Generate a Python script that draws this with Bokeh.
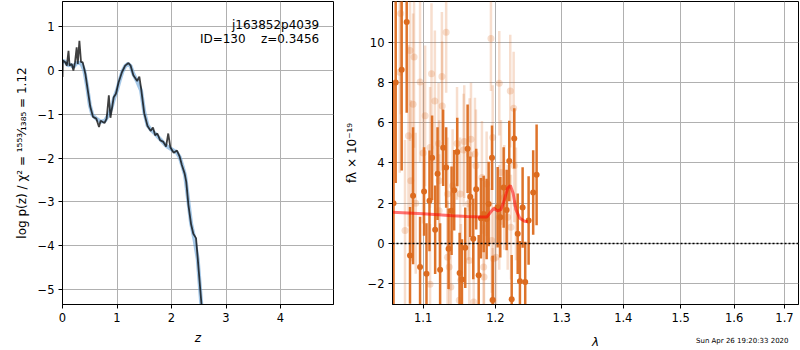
import numpy as np
from bokeh.plotting import figure
from bokeh.models import Range1d, CustomJSTickFormatter, Label, Span, ColumnDataSource
from bokeh.layouts import row
from bokeh.embed import file_html
from bokeh.resources import INLINE

# ---------------- left panel: log p(z) ----------------
pz_z = [0.0, 0.007, 0.05, 0.08, 0.11, 0.13, 0.17, 0.20, 0.23, 0.26,
        0.28, 0.31, 0.34, 0.37, 0.42, 0.46, 0.51, 0.56, 0.62, 0.67,
        0.70, 0.77, 0.81, 0.85, 0.88, 0.94, 0.98, 1.03, 1.09, 1.15,
        1.21, 1.25, 1.30, 1.37, 1.41, 1.44, 1.50, 1.56, 1.62, 1.66,
        1.70, 1.74, 1.79, 1.85, 1.90, 1.94, 1.98, 2.04, 2.10, 2.15,
        2.19, 2.24, 2.27, 2.31, 2.36, 2.40, 2.45, 2.49, 2.53, 2.55]
pz_logp = [-0.15, 0.23, 0.19, 0.11, 0.45, 0.11, 0.15, 0.0, 0.19, 0.53,
           0.15, 0.68, 0.19, 0.19, -0.08, -0.42, -0.83, -1.06, -1.10, -1.29,
           -1.15, -1.20, -1.10, -0.57, -1.08, -0.61, -0.53, -0.27, -0.04, 0.11,
           0.17, 0.11, -0.11, -0.24, -0.14, -0.39, -0.98, -1.27, -1.38, -1.30,
           -1.48, -1.44, -1.59, -1.63, -1.74, -1.44, -1.76, -1.88, -1.83, -1.97,
           -2.16, -2.35, -2.54, -3.07, -3.52, -3.73, -3.83, -4.43, -5.04, -5.34]

smooth_z = [0.0, 0.05, 0.10, 0.15, 0.20, 0.25, 0.30, 0.35, 0.40, 0.45,
            0.50, 0.55, 0.62, 0.70, 0.78, 0.85, 0.90, 0.95, 1.00, 1.05,
            1.10, 1.15, 1.20, 1.25, 1.30, 1.37, 1.44, 1.50, 1.56, 1.62,
            1.70, 1.80, 1.90, 2.00, 2.10, 2.15, 2.20, 2.25, 2.30, 2.36,
            2.42, 2.48, 2.55]
smooth_logp = [0.22, 0.20, 0.12, 0.13, 0.08, 0.16, 0.18, 0.15, 0.0, -0.35,
               -0.78, -1.02, -1.10, -1.17, -1.15, -1.00, -0.85, -0.62, -0.45, -0.22,
               -0.02, 0.10, 0.15, 0.10, -0.08, -0.25, -0.45, -0.95, -1.25, -1.35,
               -1.45, -1.58, -1.72, -1.80, -1.88, -1.98, -2.18, -2.40, -2.90, -3.50,
               -3.85, -4.30, -5.40]

left_xticks = [0, 1, 2, 3, 4]
left_yticks = [-5, -4, -3, -2, -1, 0, 1]

# ---------------- right panel: spectrum ----------------
dark_wave = [1.0615, 1.0643, 1.0720, 1.0785, 1.0868, 1.0828, 1.0960, 1.1013, 1.1045, 1.1085,
             1.1120, 1.1161, 1.1193, 1.1228, 1.1269, 1.1310, 1.1343, 1.1384, 1.1420, 1.1462,
             1.1495, 1.1527, 1.1573, 1.1606, 1.1643, 1.1685, 1.1727, 1.1762, 1.1794, 1.1833,
             1.1875, 1.1904, 1.1952, 1.1962, 1.2034, 1.2072, 1.2121, 1.2165, 1.2203, 1.2239,
             1.2277, 1.2328, 1.2361, 1.2401, 1.2440, 1.2491, 1.2560, 1.2612]
dark_flux = [2.0, 8.0, 8.63, 11.0, 2.37, -0.59, -1.17, 2.58, -1.50, 2.12,
             4.26, 0.68, 3.47, -1.30, 4.76, 3.77, -0.26, 1.63, 2.65, 4.54,
             -1.47, -1.79, -0.21, 4.71, 2.32, 0.23, 2.70, -1.58, 1.25, 1.47,
             1.22, 1.96, 4.26, -2.81, 1.80, 1.30, 2.78, 1.66, 4.10, -2.77,
             5.22, 0.48, -1.88, 1.79, -1.91, 1.14, 2.53, 3.41]
dark_err = [6.0, 5.0, 5.0, 4.5, 3.4, 2.4, 2.5, 2.2, 2.5, 2.5,
            2.1, 2.2, 2.3, 2.3, 1.9, 2.0, 2.0, 2.2, 2.0, 1.7,
            2.0, 2.0, 2.0, 2.2, 2.0, 2.0, 2.0, 2.0, 2.0, 1.9,
            2.0, 2.1, 1.6, 2.2, 2.0, 2.0, 2.0, 2.0, 2.0, 2.2,
            1.5, 2.0, 2.0, 2.0, 2.0, 2.2, 2.1, 2.5]

light_wave = [1.0707, 1.0695, 1.0828, 1.0881, 1.0868, 1.0808, 1.0960, 1.1027, 1.1112, 1.1157,
              1.1252, 1.1256, 1.1310, 1.1093, 1.1000, 1.1207, 1.1459, 1.1559, 1.1653, 1.1550,
              1.1634, 1.1808, 1.0838, 1.0903, 1.1215, 1.1329, 1.1398, 1.1215, 1.0763, 1.1503,
              1.1615, 1.1329, 1.1351, 1.1093, 1.1374, 1.1489, 1.1513, 1.1629, 1.1948, 1.2009,
              1.2057, 1.1937, 1.2057, 1.2218, 1.2268, 1.1709, 1.1723, 1.1875, 1.1962, 1.2082,
              1.2130, 1.2180, 1.2228, 1.2277, 1.2302, 1.1976, 1.1833, 1.1838, 1.1962, 1.1691]
light_flux = [11.42, 8.51, 9.59, 9.26, 6.92, 5.35, 8.02, 6.34, 8.43, 7.08,
              8.30, 6.83, 10.49, 4.77, 4.49, 4.97, 4.97, 5.06, 5.18, 4.64,
              4.41, 3.28, 3.12, 2.00, 3.12, 2.46, 2.87, 1.63, 0.64, 2.46,
              1.97, -0.68, -1.17, -2.03, -2.16, -2.82, -1.83, -0.84, 0.15, -0.68,
              1.30, 10.18, 7.96, 7.57, 6.72, 4.44, 3.86, 2.96, 5.26, 3.53,
              2.29, 1.30, 0.81, 3.86, 1.97, -0.76, -1.17, -1.67, -2.82, -2.91]
light_err = [5.0, 5.0, 4.5, 4.5, 4.5, 4.5, 4.0, 3.5, 3.5, 3.5,
             3.2, 3.2, 3.0, 3.0, 3.5, 3.0, 2.8, 2.8, 2.8, 2.8,
             2.8, 2.8, 4.0, 3.5, 3.0, 2.8, 2.8, 2.8, 4.5, 2.8,
             2.8, 2.8, 2.8, 3.0, 2.8, 2.8, 2.8, 2.8, 2.6, 2.6,
             2.6, 2.6, 2.6, 2.8, 2.8, 2.8, 2.8, 2.6, 2.6, 2.6,
             2.6, 2.6, 2.6, 2.8, 2.8, 2.6, 2.6, 2.6, 2.6, 2.8]

model_wave = [1.060, 1.080, 1.100, 1.120, 1.140, 1.160, 1.180, 1.188, 1.193, 1.198,
              1.203, 1.208, 1.213, 1.218, 1.222, 1.226, 1.230, 1.236, 1.243, 1.248]
model_flux = [1.55, 1.52, 1.48, 1.43, 1.38, 1.34, 1.31, 1.32, 1.55, 1.75,
              1.62, 1.68, 2.15, 2.75, 2.88, 2.50, 1.70, 1.25, 1.10, 1.08]

right_xticks = [1.1, 1.2, 1.3, 1.4, 1.5, 1.6, 1.7]
right_yticks = [-2, 0, 2, 4, 6, 8, 10]

timestamp = "Sun Apr 26 19:20:33 2020"

FONT = "DejaVu Sans"
DARK = "#dc6b1f"
MINUS_FMT = "return (tick < 0 ? '\u2212' : '') + Math.abs(tick).toString();"
NB = "\u00a0"


def style(p):
    for ax in p.axis:
        ax.major_tick_in = 0
        ax.major_tick_out = 4
        ax.minor_tick_line_color = None
        ax.axis_line_color = "black"
        ax.major_tick_line_color = "black"
        ax.major_label_text_font = FONT
        ax.major_label_text_font_size = "11.5px"
        ax.major_label_text_color = "black"
        ax.major_label_standoff = 4
        ax.axis_label_text_font = FONT
        ax.axis_label_text_font_size = "12px"
        ax.axis_label_text_font_style = "normal"
        ax.axis_label_text_color = "black"
        ax.axis_label_standoff = 6
    p.grid.grid_line_color = "#b0b0b0"
    p.grid.grid_line_width = 1
    p.outline_line_color = "black"
    p.outline_line_alpha = 1
    p.outline_line_width = 1
    p.background_fill_color = "white"
    p.border_fill_color = "white"


# ---- left figure ----
p1 = figure(width=335, height=350, x_range=Range1d(0, 4.972), y_range=Range1d(-5.346, 1.576),
            output_backend="svg", toolbar_location=None, title=None,
            min_border_left=62, min_border_right=2, min_border_top=1, min_border_bottom=46)
style(p1)
p1.xaxis.ticker = left_xticks
p1.yaxis.ticker = left_yticks
p1.xaxis.formatter = CustomJSTickFormatter(code=MINUS_FMT)
p1.yaxis.formatter = CustomJSTickFormatter(code=MINUS_FMT)
p1.xaxis.axis_label = "z"
p1.xaxis.axis_label_text_font_style = "italic"
p1.yaxis.axis_label = "log p(z) / \u03c7\u00b2 = \u00b9\u2075\u2075\u00b3\u2044\u2081\u2083\u2088\u2085 = 1.12"

p1.line(smooth_z, smooth_logp, line_color="#5b9bd5", line_alpha=0.55, line_width=4)
p1.line(pz_z, pz_logp, line_color="black", line_alpha=0.75, line_width=1.8)

p1.add_layout(Label(x=4.71, y=1.028, text="j163852p4039", text_align="right",
                    text_baseline="alphabetic", text_font=FONT, text_font_size="12px",
                    text_color="black"))
p1.add_layout(Label(x=4.71, y=0.724, text="ID=130" + NB * 4 + "z=0.3456", text_align="right",
                    text_baseline="alphabetic", text_font=FONT, text_font_size="12px",
                    text_color="black"))

# ---- right figure ----
p2 = figure(width=465, height=350, x_axis_type="log",
            x_range=Range1d(1.0602, 1.729), y_range=Range1d(-3.03, 12.02),
            output_backend="svg", toolbar_location=None, title=None,
            min_border_left=57, min_border_right=2, min_border_top=1, min_border_bottom=46)
style(p2)
p2.xaxis.ticker = right_xticks
p2.yaxis.ticker = right_yticks
p2.xaxis.formatter = CustomJSTickFormatter(code="return tick.toFixed(1);")
p2.yaxis.formatter = CustomJSTickFormatter(code=MINUS_FMT)
p2.yaxis.axis_label = "f\u03bb \u00d7 10\u207b\u00b9\u2079"

lw = np.array(light_wave)
lf = np.array(light_flux)
le = np.array(light_err)
light_src = ColumnDataSource(dict(x=lw, y=lf, y0=lf - le, y1=lf + le))
dw = np.array(dark_wave)
df = np.array(dark_flux)
de = np.array(dark_err)
dark_src = ColumnDataSource(dict(x=dw, y=df, y0=df - de, y1=df + de))

p2.segment(x0="x", y0="y0", x1="x", y1="y1", source=light_src,
           line_color=DARK, line_alpha=0.22, line_width=2.5)
p2.scatter("x", "y", source=light_src, size=7, fill_color=DARK, fill_alpha=0.22,
           line_color=None)
p2.segment(x0="x", y0="y0", x1="x", y1="y1", source=dark_src,
           line_color=DARK, line_alpha=0.95, line_width=2.5)
p2.scatter("x", "y", source=dark_src, size=6, fill_color=DARK, line_color=None)

p2.line(model_wave, model_flux, line_color="red", line_alpha=0.55, line_width=3)

p2.add_layout(Span(location=0, dimension="width", line_color="black",
                   line_dash="2 2", line_width=1.5))

# x-axis label and timestamp share the row below the tick labels
p2.add_layout(Label(x=203, y=-3, x_units="screen", y_units="screen",
                    text="\u03bb", text_align="center", text_baseline="middle",
                    text_font=FONT, text_font_size="12px", text_font_style="italic",
                    text_color="black"), "below")
p2.add_layout(Label(x=396, y=6, x_units="screen", y_units="screen",
                    text=timestamp, text_align="right",
                    text_baseline="middle", text_font=FONT, text_font_size="7px",
                    text_color="black"), "below")

layout = row(p1, p2)
open("out.html", "w").write(file_html(layout, INLINE))
